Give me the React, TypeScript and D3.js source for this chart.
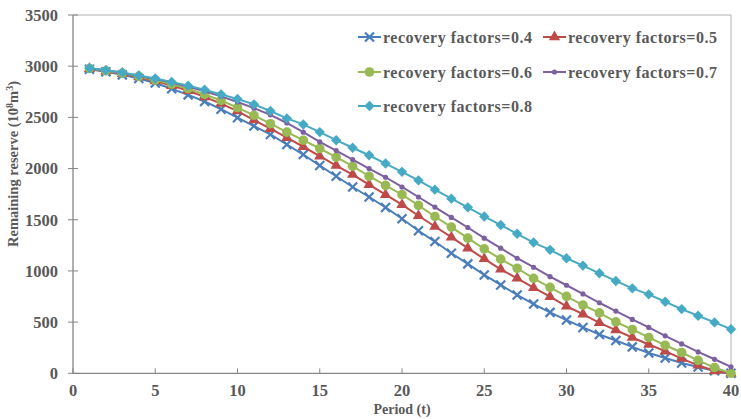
import React from "react";
import * as d3 from "d3";

const periods = d3.range(1, 41);
const seriesNames = [
  "recovery factors=0.4",
  "recovery factors=0.5",
  "recovery factors=0.6",
  "recovery factors=0.7",
  "recovery factors=0.8",
];
const rf04 = [2970, 2945, 2915, 2880, 2835, 2780, 2720, 2655, 2580, 2497, 2415, 2333, 2235, 2137, 2029, 1925, 1820, 1722, 1620, 1510, 1392, 1287, 1173, 1069, 961, 863, 765, 676, 595, 520, 448, 379, 320, 258, 199, 150, 101, 62, 25, 0];
const rf05 = [2975, 2950, 2925, 2895, 2855, 2810, 2760, 2700, 2635, 2562, 2474, 2389, 2301, 2213, 2121, 2029, 1941, 1843, 1745, 1647, 1539, 1434, 1330, 1222, 1118, 1016, 928, 836, 748, 655, 578, 493, 422, 350, 281, 216, 144, 78, 23, 0];
const rf06 = [2978, 2955, 2930, 2900, 2865, 2825, 2780, 2725, 2665, 2595, 2520, 2438, 2356, 2277, 2196, 2111, 2023, 1925, 1836, 1745, 1640, 1532, 1428, 1320, 1216, 1115, 1026, 928, 840, 752, 667, 591, 503, 428, 350, 274, 203, 127, 56, 0];
const rf07 = [2980, 2960, 2935, 2905, 2875, 2840, 2800, 2755, 2705, 2650, 2590, 2525, 2445, 2355, 2260, 2176, 2088, 2000, 1915, 1820, 1722, 1624, 1523, 1424, 1320, 1222, 1124, 1036, 944, 860, 775, 689, 608, 526, 448, 366, 287, 209, 137, 62];
const rf08 = [2982, 2960, 2938, 2910, 2880, 2845, 2810, 2770, 2725, 2680, 2627, 2562, 2490, 2431, 2356, 2277, 2203, 2130, 2049, 1968, 1885, 1794, 1706, 1621, 1532, 1448, 1363, 1277, 1206, 1124, 1052, 977, 902, 830, 771, 699, 627, 562, 497, 431];
const xTicks = [0, 5, 10, 15, 20, 25, 30, 35, 40];
const yTicks = [0, 500, 1000, 1500, 2000, 2500, 3000, 3500];
const colors = ["#4A7EBB", "#BE4B48", "#98B954", "#7D60A0", "#46AAC5"];
const markers = ["x", "triangle", "circle", "dot", "diamond"];

const W = 741, H = 419;
const left = 73, right = 731, top = 15, bottom = 373.3;
const font = "'Liberation Serif', 'Times New Roman', serif";
const textColor = "#595959";

function Marker({ type, x, y, color }: { type: string; x: number; y: number; color: string }) {
  if (type === "x") {
    const s = 4.5;
    return (
      <path d={`M${x - s},${y - s}L${x + s},${y + s}M${x - s},${y + s}L${x + s},${y - s}`} stroke={color} strokeWidth={2.2} />
    );
  }
  if (type === "triangle") {
    const p = d3.symbol(d3.symbolTriangle, 55)();
    return <path d={p || ""} transform={`translate(${x},${y})`} fill={color} />;
  }
  if (type === "circle") return <circle cx={x} cy={y} r={4.8} fill={color} />;
  if (type === "dot") return <circle cx={x} cy={y} r={2.6} fill={color} />;
  const s = 5.2;
  return <path d={`M${x},${y - s}L${x + s},${y}L${x},${y + s}L${x - s},${y}Z`} fill={color} />;
}

export default function App() {
  const x = d3.scaleLinear().domain([0, 40]).range([left, right]);
  const y = d3.scaleLinear().domain([0, 3500]).range([bottom, top]);
  const all = [rf04, rf05, rf06, rf07, rf08];
  const line = d3
    .line<number>()
    .x((_, i) => x(periods[i]))
    .y((d) => y(d));

  const legendPos = [
    { lx: 358, ly: 37 },
    { lx: 543, ly: 37 },
    { lx: 358, ly: 72 },
    { lx: 543, ly: 72 },
    { lx: 358, ly: 106 },
  ];

  return (
    <svg width={W} height={H} style={{ position: "absolute", left: 0, top: 0, background: "#fff" }}>
      <rect x={0} y={0} width={W} height={H} fill="#fff" />
      <line x1={left} x2={right} y1={top} y2={top} stroke="#B0B0B0" strokeWidth={1} />
      <line x1={right} x2={right} y1={top} y2={bottom} stroke="#B0B0B0" strokeWidth={1} />
      <line x1={left} x2={left} y1={top} y2={bottom} stroke="#868686" strokeWidth={1.3} />
      <line x1={left} x2={right} y1={bottom} y2={bottom} stroke="#868686" strokeWidth={1.3} />
      {yTicks.map((t) => (
        <g key={"y" + t}>
          <line x1={left - 5} x2={left + 5} y1={y(t)} y2={y(t)} stroke="#868686" strokeWidth={1} />
          <text x={left - 15} y={y(t)} dy="0.35em" textAnchor="end" fontFamily={font} fontWeight="bold" fontSize={16.5} fill={textColor}>
            {t}
          </text>
        </g>
      ))}
      {xTicks.map((t) => (
        <g key={"x" + t}>
          <line x1={x(t)} x2={x(t)} y1={bottom} y2={bottom - 5} stroke="#868686" strokeWidth={1} />
          <text x={x(t)} y={396} textAnchor="middle" fontFamily={font} fontWeight="bold" fontSize={16.5} fill={textColor}>
            {t}
          </text>
        </g>
      ))}
      <text x={(left + right) / 2} y={414} textAnchor="middle" fontFamily={font} fontWeight="bold" fontSize={14} fill={textColor}>
        Period (t)
      </text>
      <text
        transform={`translate(18,${164}) rotate(-90)`}
        textAnchor="middle"
        fontFamily={font}
        fontWeight="bold"
        fontSize={14.5}
        fill={textColor}
      >
        Remaining reserve (10
        <tspan dy={-5} fontSize={10}>8</tspan>
        <tspan dy={5}>m</tspan>
        <tspan dy={-5} fontSize={10}>3</tspan>
        <tspan dy={5}>)</tspan>
      </text>
      {all.map((s, si) => (
        <g key={"s" + si}>
          <path d={line(s) || ""} fill="none" stroke={colors[si]} strokeWidth={2} />
          {s.map((v, i) => (
            <Marker key={i} type={markers[si]} x={x(periods[i])} y={y(v)} color={colors[si]} />
          ))}
        </g>
      ))}
      {seriesNames.map((name, si) => {
        const p = legendPos[si];
        return (
          <g key={"l" + si}>
            <line x1={p.lx} x2={p.lx + 23} y1={p.ly} y2={p.ly} stroke={colors[si]} strokeWidth={2} />
            <Marker type={markers[si]} x={p.lx + 11.5} y={p.ly} color={colors[si]} />
            <text x={p.lx + 25} y={p.ly} dy="0.35em" fontFamily={font} fontWeight="bold" fontSize={16} letterSpacing={0.5} fill={textColor}>
              {name}
            </text>
          </g>
        );
      })}
    </svg>
  );
}
